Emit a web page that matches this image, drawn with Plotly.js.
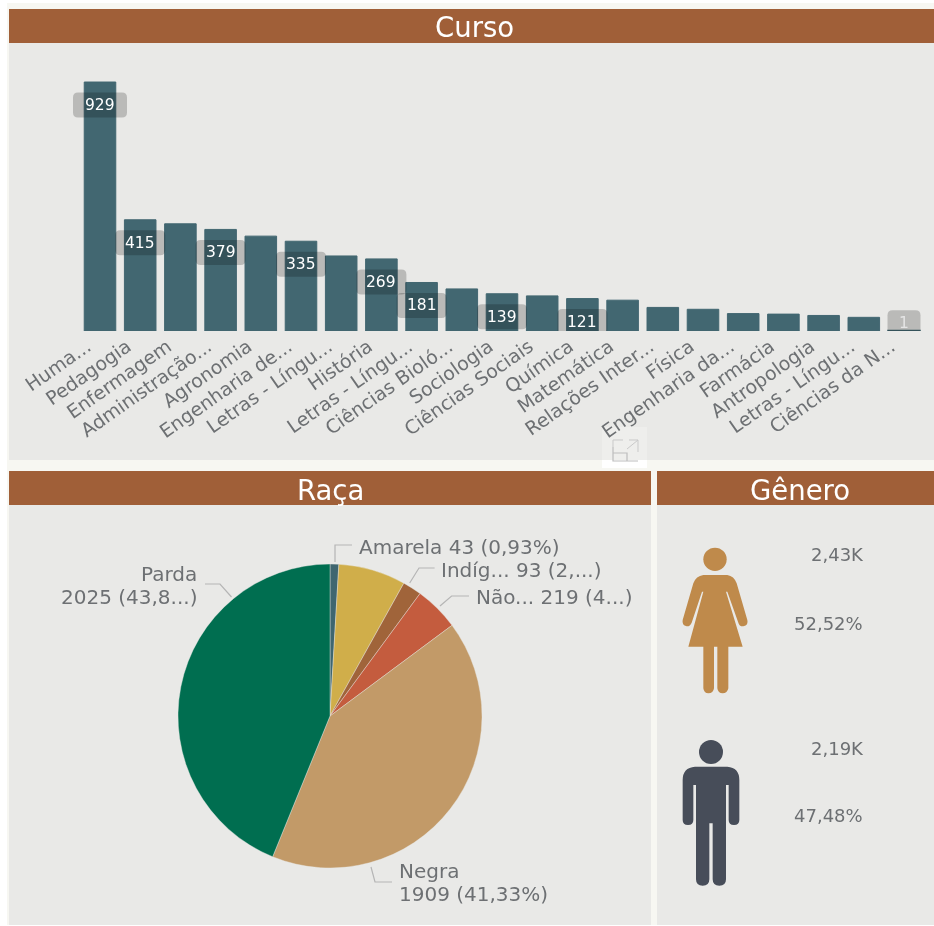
<!DOCTYPE html>
<html><head><meta charset="utf-8">
<script src="https://cdn.plot.ly/plotly-3.0.1.min.js"></script>
<style>html,body{margin:0;padding:0;background:#ffffff}#c{width:934px;height:926px;filter:blur(0.5px)}</style>
</head><body><div id="c"></div>
<script>
const courses = ["Huma...","Pedagogia","Enfermagem","Administração...","Agronomia","Engenharia de...","Letras - Língu...","História","Letras - Língu...","Ciências Bioló...","Sociologia","Ciências Sociais","Química","Matemática","Relações Inter...","Física","Engenharia da...","Farmácia","Antropologia","Letras - Língu...","Ciências da N..."];
const courseValues = [929,415,400,379,354,335,280,269,181,157,139,131,121,115,88,81,65,63,58,51,1];
const labelledCourses = [0,1,3,5,7,8,10,12,20];
const raceNames = ["Amarela","Branca","Indígena","Não informada","Negra","Parda"];
const raceValues = [43,330,93,219,1909,2025];
const raceColors = ["#3f6670","#d0ae4a","#a0643a","#c45c3e","#c29a68","#006e50"];
const panelTitles = ["Curso","Raça","Gênero"];
const genderCounts = ["2,43K","2,19K"];
const genderShares = ["52,52%","47,48%"];

const W=934,H=926;
const px=x=>x/W, py=y=>1-y/H;
const FONT='"DejaVu Sans", Verdana, sans-serif';
const TXT='#6d7073';
const shapes=[], ann=[];
function rect(x0,y0,x1,y1,c){shapes.push({type:'rect',xref:'paper',yref:'paper',x0:px(x0),x1:px(x1),y0:py(y0),y1:py(y1),fillcolor:c,line:{width:0},layer:'below'});}
function poly(pts,c,w){shapes.push({type:'path',xref:'paper',yref:'paper',path:'M'+pts.map(p=>px(p[0])+' '+py(p[1])).join(' L'),line:{color:c,width:w||1},layer:'above'});}
function label(x,y,t,anchor,o){ann.push(Object.assign({xref:'paper',yref:'paper',x:px(x),y:py(y),text:t,showarrow:false,xanchor:anchor,yanchor:'middle',font:{family:FONT,size:20,color:TXT},borderpad:0,borderwidth:0},o||{}));}

// panels
const PANEL='#e9e9e7',HEAD='#a05f38',GAP='#f7f7f2';
rect(7,3,934,925,GAP);
rect(9,43,934,460,PANEL); rect(9,9,934,43,HEAD);
rect(9,505,651,925,PANEL); rect(9,471,651,505,HEAD);
rect(657,505,934,925,PANEL); rect(657,471,934,505,HEAD);
[[475,27],[330,490],[800,490]].forEach((xy,i)=>{
  label(xy[0],xy[1],panelTitles[i],'center',{font:{family:FONT,size:27.5,color:'#ffffff'}});
});

// expand icon
rect(602,427,647,460,'#eeeeec');
rect(602,460,647,468,'#ffffff');
poly([[613,447],[613,461],[638,461]],'#bdbdbd',1.2);
poly([[613,453],[627,453],[627,461]],'#bdbdbd',1.2);
poly([[613,447],[613,440],[623,440]],'#c9c9c9',1);
poly([[629,440],[638,440],[638,452]],'#c9c9c9',1);
poly([[627,449],[638,440]],'#c9c9c9',1);

// bar value pills
labelledCourses.forEach(i=>{
  const v=courseValues[i], s=String(v), hw=s.length===1?16.5:(i===0?27:25), off=v<10?8:-23, hh=12.5, r=5;
  const t=off+hh,b=off-hh;
  shapes.push({type:'path',xref:'x',yref:'y',xsizemode:'pixel',ysizemode:'pixel',xanchor:i,yanchor:v,
    path:`M ${-hw+r} ${t} L ${hw-r} ${t} Q ${hw} ${t} ${hw} ${t-r} L ${hw} ${b+r} Q ${hw} ${b} ${hw-r} ${b} L ${-hw+r} ${b} Q ${-hw} ${b} ${-hw} ${b+r} L ${-hw} ${t-r} Q ${-hw} ${t} ${-hw+r} ${t} Z`,
    fillcolor:'rgba(0,0,0,0.2)',line:{width:0},layer:'above'});
  ann.push({xref:'x',yref:'y',x:i,y:v,yshift:off,text:s,showarrow:false,yanchor:'middle',xanchor:'center',
    font:{family:FONT,size:15.5,color:v<10?'#e4e4e4':'#ffffff'}});
});

// pie leaders
[[[335,562],[335,545],[352,545]],[[409.7,583],[419,568],[434.6,568]],[[440,606],[451.6,596],[469,596]],
 [[231.5,597],[220,584],[205,584]],[[371,867],[375,882],[392,882]]].forEach(l=>poly(l,'#b5b5b5',1.2));
label(359,547,`${raceNames[0]} ${raceValues[0]} (0,93%)`,'left');
label(441,570,`Indíg... ${raceValues[2]} (2,...)`,'left');
label(476,597,`Não... ${raceValues[3]} (4...)`,'left');
label(197,574,raceNames[5],'right');
label(197,597,`${raceValues[5]} (43,8...)`,'right');
label(399,871,raceNames[4],'left');
label(399,894,`${raceValues[4]} (41,33%)`,'left');

// gender icons
const Z=(X,Y)=>[640+X/3,470+Y/3];
function icon(d,c){
  const toks=d.trim().split(/\s+/);let out=[],i=0;
  while(i<toks.length){const t=toks[i];
    if(/[A-Z]/.test(t)){out.push(t);i++;continue;}
    const q=Z(+toks[i],+toks[i+1]);out.push(px(q[0])+' '+py(q[1]));i+=2;}
  shapes.push({type:'path',xref:'paper',yref:'paper',path:out.join(' '),fillcolor:c,line:{width:0},layer:'above'});
}
function head(cx,cy,r,c){const a=Z(cx-r,cy-r),b=Z(cx+r,cy+r);
  shapes.push({type:'circle',xref:'paper',yref:'paper',x0:px(a[0]),x1:px(b[0]),y0:py(a[1]),y1:py(b[1]),fillcolor:c,line:{width:0},layer:'above'});}
const FEM='#bf8a4b',MAL='#474d59';
head(225,268,35,FEM);
icon("M 190 315 L 262 315 Q 282 318 290 340 L 322 450 Q 326 466 310 469 Q 298 470 295 458 L 262 365 L 258 365 L 308 530 L 265 530 L 265 655 Q 262 670 248 670 Q 234 670 232 655 L 232 530 L 222 530 L 222 655 Q 220 670 205 670 Q 192 670 190 655 L 190 530 L 145 530 L 190 365 L 186 365 L 155 458 Q 150 470 140 469 Q 125 466 128 450 L 160 340 Q 168 318 190 315 Z",FEM);
head(213,846,36,MAL);
icon("M 165 890 L 262 890 Q 298 893 298 930 L 298 1050 Q 298 1065 282 1065 Q 266 1065 266 1050 L 266 945 L 258 945 L 258 1228 Q 258 1247 238 1247 Q 218 1247 218 1228 L 218 1060 L 208 1060 L 208 1228 Q 208 1247 188 1247 Q 168 1247 168 1228 L 168 945 L 160 945 L 160 1050 Q 160 1065 144 1065 Q 128 1065 128 1050 L 128 930 Q 128 893 165 890 Z",MAL);
const gOpt={font:{family:FONT,size:18,color:TXT}};
label(864,554,genderCounts[0],'right',gOpt);
label(863,623,genderShares[0],'right',gOpt);
label(864,748,genderCounts[1],'right',gOpt);
label(863,815,genderShares[1],'right',gOpt);

const step=40.2,first=100,base=331,perUnit=0.268;
const data=[
 {type:'bar',x:courses.map((_,i)=>i),y:courseValues,marker:{color:'#426771',line:{color:'#426771',width:courseValues.map(v=>v<10?2:1)}},width:0.785,hoverinfo:'none',cliponaxis:false},
 {type:'pie',labels:raceNames,values:raceValues,sort:false,direction:'clockwise',rotation:0,textinfo:'none',showlegend:false,hoverinfo:'none',
  marker:{colors:raceColors,line:{color:'#e9e9e7',width:0.4}},domain:{x:[px(178),px(482)],y:[py(868),py(564)]}}
];
const layout={width:W,height:H,margin:{l:0,r:0,t:0,b:0,pad:0},paper_bgcolor:'#ffffff',plot_bgcolor:'rgba(0,0,0,0)',showlegend:false,
 xaxis:{domain:[0,1],range:[-first/step,(W-first)/step],tickmode:'array',tickvals:courses.map((_,i)=>i),ticktext:courses,tickangle:-35,ticklabelshift:-13,ticklabelstandoff:0,
   tickfont:{family:FONT,size:19,color:TXT},ticks:'',showgrid:false,zeroline:false,showline:false,fixedrange:true,automargin:false},
 yaxis:{domain:[py(base),py(43)],range:[0,(base-43)/perUnit],visible:false,fixedrange:true,automargin:false},
 shapes:shapes,annotations:ann};
Plotly.newPlot('c',data,layout,{displayModeBar:false,staticPlot:true});
</script></body></html>
